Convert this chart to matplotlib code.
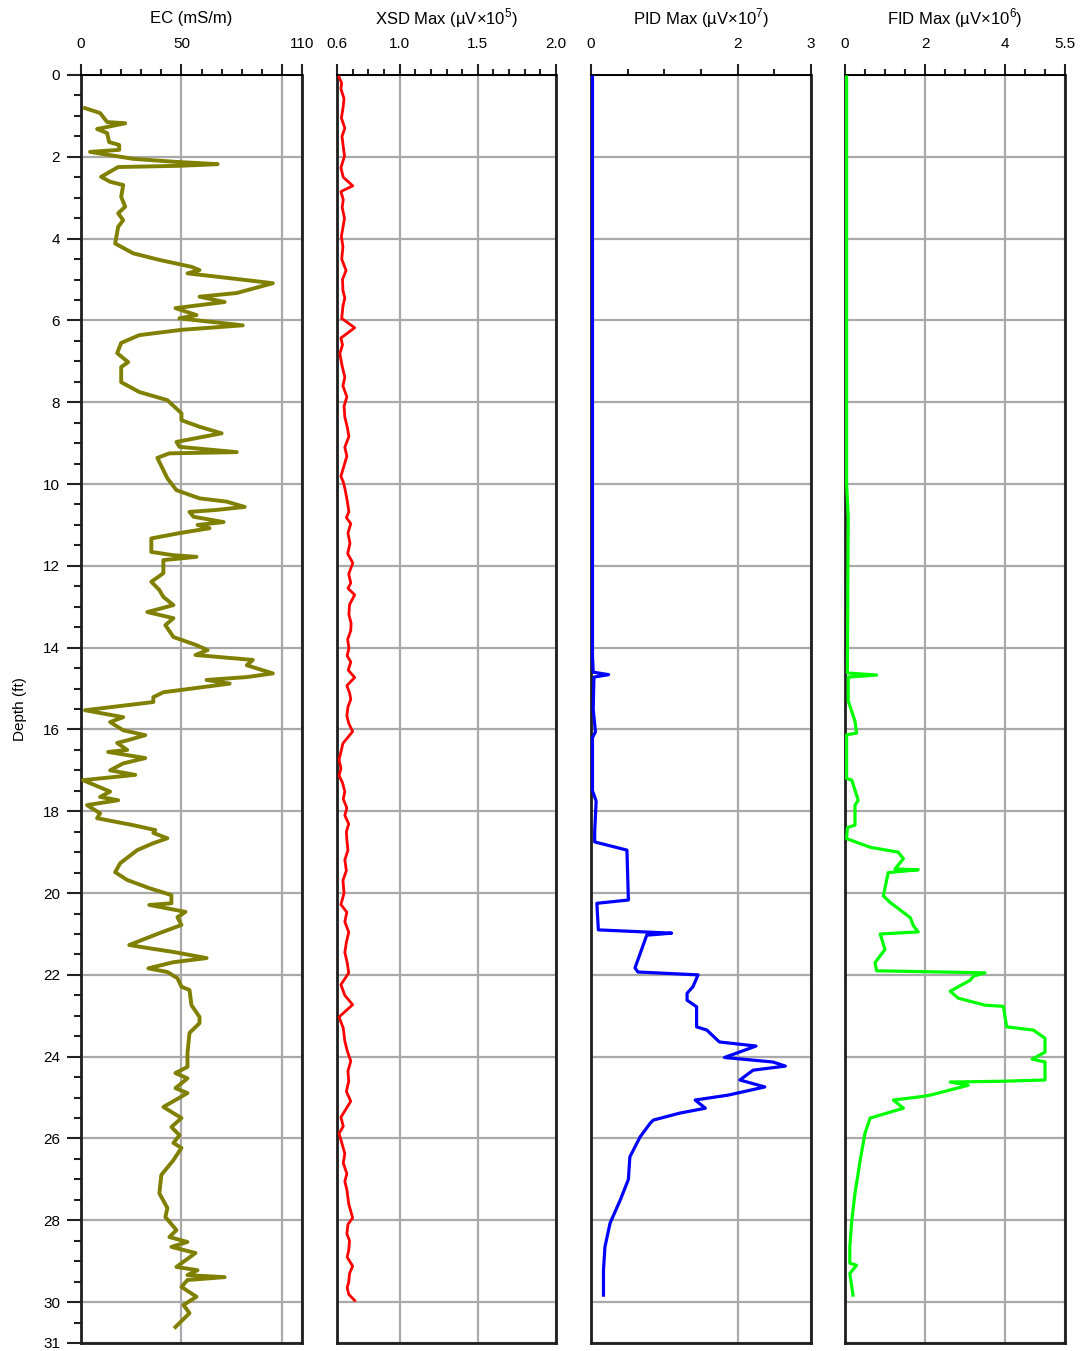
import numpy as np
import matplotlib.pyplot as plt
from matplotlib.ticker import FixedLocator, FixedFormatter, MultipleLocator

plt.rcParams['font.family'] = ['Liberation Sans', 'DejaVu Sans']
plt.rcParams['mathtext.fontset'] = 'custom'
plt.rcParams['mathtext.rm'] = 'Liberation Sans'

# EC log (mS/m) vs depth (ft)
ec_depth = [0.81, 0.93, 1.15, 1.18, 1.32, 1.42, 1.64, 1.71, 1.83, 1.88,
            2.05, 2.12, 2.18, 2.22, 2.25, 2.49, 2.61, 2.69, 2.98, 3.22,
            3.38, 3.55, 3.71, 4.12, 4.36, 4.52, 4.69, 4.77, 4.85, 4.93,
            5.09, 5.33, 5.42, 5.55, 5.70, 5.87, 5.95, 6.12, 6.23, 6.36,
            6.55, 6.80, 7.02, 7.14, 7.51, 7.75, 7.95, 8.27, 8.44, 8.60,
            8.76, 8.97, 9.09, 9.22, 9.25, 9.36, 9.66, 9.86, 10.15, 10.35,
            10.43, 10.56, 10.64, 10.68, 10.80, 10.93, 11.0, 11.08, 11.20, 11.33,
            11.66, 11.74, 11.78, 11.86, 12.18, 12.39, 12.59, 12.76, 12.96, 13.13,
            13.28, 13.45, 13.74, 13.94, 14.06, 14.18, 14.30, 14.43, 14.63, 14.72,
            14.79, 14.88, 15.09, 15.21, 15.33, 15.53, 15.70, 15.82, 16.02, 16.14,
            16.26, 16.33, 16.50, 16.55, 16.70, 16.83, 17.0, 17.11, 17.24, 17.52,
            17.65, 17.73, 17.85, 18.05, 18.17, 18.34, 18.46, 18.53, 18.66, 18.78,
            18.95, 19.27, 19.49, 19.68, 19.88, 20.05, 20.25, 20.29, 20.46, 20.59,
            20.78, 20.98, 21.27, 21.35, 21.44, 21.59, 21.69, 21.84, 21.93, 22.08,
            22.29, 22.37, 22.74, 23.03, 23.18, 23.42, 23.91, 24.25, 24.40, 24.53,
            24.77, 24.89, 25.23, 25.50, 25.72, 25.92, 26.11, 26.23, 26.53, 26.89,
            27.34, 27.70, 27.92, 28.24, 28.41, 28.53, 28.65, 28.80, 29.14, 29.22,
            29.34, 29.39, 29.46, 29.63, 29.87, 30.07, 30.27, 30.61]
ec_vals = [2, 9.5, 13, 22, 8, 13, 14, 19, 19, 4.5,
           26, 46, 68, 49, 18.5, 10, 14.5, 21, 20, 22,
           18.5, 21, 18.5, 17, 26, 39, 55, 59, 53, 67.5,
           95.5, 77.5, 59, 71.5, 47, 57.5, 49, 80.5, 50, 29,
           20, 18, 23.5, 20, 20, 29, 43, 50, 50, 59,
           70, 47.5, 49, 77.5, 44, 38, 41, 43, 47.5, 59,
           72.5, 81.5, 66, 54, 56, 71, 58, 64, 49, 35,
           35, 46, 57.5, 41, 41, 35, 39, 41, 46, 33,
           46, 42, 46, 57.5, 63, 57, 85.5, 82.5, 95.5, 82.5,
           62.5, 74, 41, 36, 36, 2, 21, 14.5, 21, 32,
           23.5, 18, 23, 13.5, 32, 21, 14.5, 27, 1, 14.5,
           9.5, 18.5, 3, 9.5, 8, 26, 37, 36, 43, 36,
           28, 19.5, 17, 23, 34, 45, 45, 34, 52, 48,
           50, 39, 24, 34, 46, 62.5, 46, 33.5, 43, 48,
           50, 54, 55, 59, 59, 54, 53, 53, 47, 53,
           47, 53, 41, 50, 45, 49, 46, 50, 46, 40,
           39, 43, 42, 47.5, 44, 53, 45, 57, 47.5, 58,
           53, 71.5, 53, 50, 57.5, 51, 54, 47]

# XSD max (uV x 1e5)
xsd_depth = [0.05, 0.2, 0.34, 0.58, 0.82, 1.05, 1.30, 1.5, 1.69, 1.98,
             2.27, 2.5, 2.71, 2.85, 3.05, 3.24, 3.5, 3.72, 3.95, 4.20,
             4.5, 4.78, 5.0, 5.27, 5.45, 5.65, 5.95, 6.18, 6.43, 6.6,
             6.81, 7.1, 7.39, 7.6, 7.87, 8.1, 8.36, 8.6, 8.84, 9.1,
             9.32, 9.55, 9.81, 9.95, 10.10, 10.4, 10.68, 10.82, 10.97, 11.2,
             11.45, 11.7, 11.93, 12.2, 12.42, 12.55, 12.71, 12.95, 13.19, 13.4,
             13.58, 13.8, 14.01, 14.2, 14.35, 14.55, 14.73, 14.93, 15.1, 15.26,
             15.45, 15.66, 15.85, 16.05, 16.34, 16.55, 16.74, 16.95, 17.13, 17.3,
             17.52, 17.7, 17.92, 18.1, 18.31, 18.5, 18.70, 18.95, 19.19, 19.45,
             19.69, 20.0, 20.28, 20.47, 20.7, 20.96, 21.2, 21.45, 21.7, 21.95,
             22.24, 22.5, 22.73, 23.03, 23.3, 23.62, 23.85, 24.11, 24.35, 24.60,
             24.85, 25.09, 25.48, 25.7, 25.88, 26.1, 26.37, 26.6, 26.86, 27.05,
             27.25, 27.6, 27.94, 28.1, 28.33, 28.5, 28.73, 28.9, 29.12, 29.3,
             29.51, 29.65, 29.81, 29.96]
xsd_vals = [0.613, 0.630, 0.625, 0.645, 0.638, 0.628, 0.650, 0.632, 0.638, 0.648,
            0.625, 0.640, 0.701, 0.625, 0.640, 0.633, 0.648, 0.638, 0.628, 0.638,
            0.630, 0.658, 0.635, 0.638, 0.650, 0.638, 0.630, 0.713, 0.625, 0.635,
            0.618, 0.632, 0.650, 0.638, 0.663, 0.645, 0.650, 0.665, 0.676, 0.650,
            0.663, 0.645, 0.625, 0.640, 0.650, 0.665, 0.676, 0.660, 0.688, 0.670,
            0.683, 0.668, 0.701, 0.675, 0.688, 0.670, 0.713, 0.680, 0.676, 0.690,
            0.688, 0.668, 0.676, 0.665, 0.688, 0.672, 0.713, 0.663, 0.680, 0.688,
            0.670, 0.663, 0.675, 0.700, 0.638, 0.625, 0.613, 0.625, 0.613, 0.635,
            0.650, 0.640, 0.663, 0.650, 0.675, 0.660, 0.663, 0.670, 0.650, 0.660,
            0.638, 0.645, 0.625, 0.663, 0.650, 0.675, 0.660, 0.650, 0.665, 0.675,
            0.625, 0.650, 0.700, 0.613, 0.640, 0.650, 0.665, 0.688, 0.670, 0.675,
            0.660, 0.688, 0.625, 0.640, 0.613, 0.630, 0.650, 0.640, 0.663, 0.650,
            0.663, 0.675, 0.700, 0.670, 0.663, 0.680, 0.675, 0.665, 0.700, 0.680,
            0.675, 0.665, 0.675, 0.713]

# PID max (uV x 1e7)
pid_depth = [0.05, 5, 10, 14.2, 14.6, 14.66, 14.72, 15.5, 16.06, 16.2,
             17.5, 17.75, 18.5, 18.62, 18.75, 18.95, 20.17, 20.25, 20.9, 20.98,
             21.03, 21.83, 21.93, 22.0, 22.29, 22.45, 22.62, 22.78, 23.27, 23.35,
             23.64, 23.74, 24.02, 24.13, 24.23, 24.33, 24.57, 24.74, 24.94, 25.06,
             25.26, 25.38, 25.55, 25.62, 25.96, 26.45, 27.0, 27.5, 28.07, 28.65,
             29.22, 29.83]
pid_vals = [0.02, 0.02, 0.02, 0.02, 0.03, 0.24, 0.04, 0.03, 0.06, 0.02,
            0.02, 0.07, 0.05, 0.05, 0.05, 0.49, 0.51, 0.08, 0.1, 1.1,
            0.76, 0.6, 0.64, 1.46, 1.39, 1.31, 1.31, 1.44, 1.44, 1.58,
            1.75, 2.25, 1.82, 2.48, 2.65, 2.21, 2.03, 2.37, 1.87, 1.42,
            1.56, 1.21, 0.85, 0.81, 0.67, 0.53, 0.51, 0.4, 0.26, 0.19,
            0.17, 0.17]

# FID max (uV x 1e6)
fid_depth = [0.05, 10, 10.8, 14.5, 14.62, 14.67, 14.72, 15.3, 15.8, 16.09,
             16.13, 17.2, 17.24, 17.73, 17.85, 18.34, 18.4, 18.67, 18.88, 19.0,
             19.16, 19.41, 19.43, 19.5, 20.07, 20.23, 20.6, 20.8, 20.95, 21.0,
             21.38, 21.7, 21.9, 21.95, 22.03, 22.13, 22.4, 22.57, 22.74, 22.77,
             23.27, 23.35, 23.55, 23.89, 24.06, 24.13, 24.57, 24.6, 24.62, 24.7,
             24.94, 24.98, 25.06, 25.26, 25.5, 25.87, 26.53, 27.34, 28.0, 28.65,
             29.05, 29.1, 29.3, 29.83]
fid_vals = [0.04, 0.04, 0.08, 0.06, 0.06, 0.79, 0.08, 0.08, 0.25, 0.29,
            0.04, 0.04, 0.17, 0.33, 0.25, 0.25, 0.06, 0.04, 0.63, 1.33,
            1.46, 1.25, 1.83, 1.08, 0.96, 1.13, 1.63, 1.71, 1.83, 0.88,
            1.0, 0.75, 0.79, 3.5, 3.21, 3.13, 2.63, 2.83, 3.5, 3.96,
            4.04, 4.71, 5.0, 5.0, 4.68, 5.0, 5.0, 3.96, 2.63, 3.08,
            2.13, 1.88, 1.21, 1.46, 0.63, 0.5, 0.38, 0.25, 0.17, 0.12,
            0.12, 0.29, 0.12, 0.2]

depth_ticks = list(range(0, 31, 2)) + [31]
depth_labels = [str(d) for d in depth_ticks]

fig = plt.figure(figsize=(10.81, 13.51), dpi=100)

W, H = 1081.0, 1351.0
top_px, bot_px = 75, 1343


def make_panel(x0, x1, depth, vals, color, lw, xlim, majors, labels, minor, title, first=False):
    ax = fig.add_axes([x0 / W, 1 - bot_px / H, (x1 - x0) / W, (bot_px - top_px) / H])
    ax.plot(vals, depth, color=color, lw=lw, solid_joinstyle='round', zorder=3)
    ax.set_xlim(*xlim)
    ax.set_ylim(31, 0)
    ax.xaxis.tick_top()
    ax.xaxis.set_major_locator(FixedLocator(majors))
    ax.xaxis.set_major_formatter(FixedFormatter(labels))
    ax.xaxis.set_minor_locator(MultipleLocator(minor))
    ax.tick_params(axis='x', which='major', direction='out', length=8, width=1.5,
                   labelsize=11, pad=9, color='#222222')
    ax.tick_params(axis='x', which='minor', direction='out', length=4, width=1.5,
                   color='#222222')
    ax.yaxis.set_major_locator(FixedLocator(depth_ticks))
    ax.yaxis.set_minor_locator(MultipleLocator(0.5))
    if first:
        ax.yaxis.set_major_formatter(FixedFormatter(depth_labels))
        ax.tick_params(axis='y', which='major', direction='out', length=10, width=1.5,
                       labelsize=11, pad=5, color='#222222')
        ax.tick_params(axis='y', which='minor', direction='out', length=5, width=1.5,
                       color='#222222')
        ax.set_ylabel('Depth (ft)', fontsize=11, labelpad=12)
    else:
        ax.tick_params(axis='y', which='both', length=0, labelleft=False)
    ax.grid(True, which='major', color='#a9a9a9', lw=1.6)
    ax.set_axisbelow(True)
    for side in ['left', 'right', 'bottom']:
        ax.spines[side].set_linewidth(2.0)
        ax.spines[side].set_color('#1e1e1e')
    ax.spines['top'].set_linewidth(1.4)
    ax.text(0.5, 1 + (top_px - 18) / (bot_px - top_px), title, transform=ax.transAxes,
            ha='center', va='center', fontsize=12)
    return ax


make_panel(81, 302, ec_depth, ec_vals, '#808000', 2.8, (0, 110),
           [0, 50, 100, 110], ['0', '50', '', '110'], 10, 'EC (mS/m)', first=True)
make_panel(337, 556, xsd_depth, xsd_vals, '#ff0000', 2.0, (0.6, 2.0),
           [0.6, 1.0, 1.5, 2.0], ['0.6', '1.0', '1.5', '2.0'], 0.1,
           'XSD Max (µV\u00d710$^{5}$)')
make_panel(591, 811, pid_depth, pid_vals, '#0000ff', 2.3, (0, 3),
           [0, 2, 3], ['0', '2', '3'], 0.5, 'PID Max (µV\u00d710$^{7}$)')
make_panel(845, 1065, fid_depth, fid_vals, '#00ff00', 2.3, (0, 5.5),
           [0, 2, 4, 5.5], ['0', '2', '4', '5.5'], 0.5, 'FID Max (µV\u00d710$^{6}$)')

plt.savefig('out.png', dpi=100)
